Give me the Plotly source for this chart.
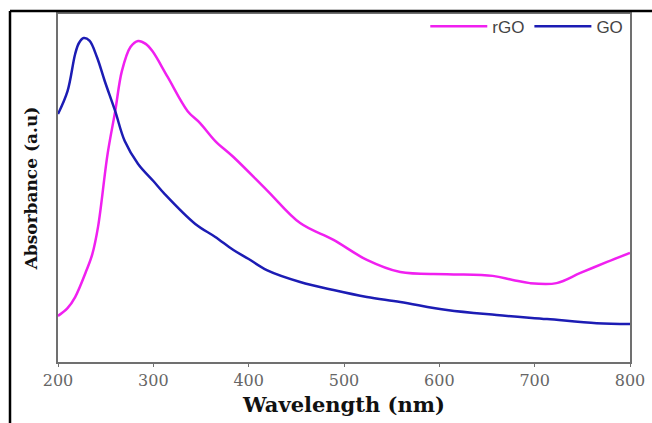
import plotly.graph_objects as go

go_wl = [200, 210, 218, 222, 227, 233, 241, 249, 260, 270, 284, 300, 312, 344, 365,
         384, 400, 419, 454, 489, 524, 559, 608, 660, 713, 765, 800]
go_abs = [0.855, 0.934, 1.062, 1.100, 1.117, 1.108, 1.050, 0.969, 0.865, 0.762,
          0.683, 0.624, 0.579, 0.476, 0.431, 0.386, 0.355, 0.317, 0.276, 0.248, 0.224,
          0.207, 0.179, 0.162, 0.148, 0.134, 0.131]

rgo_wl = [200, 210, 218, 230, 236, 242, 252, 260, 267, 276, 284, 292, 299, 315, 336,
          349, 365, 384, 419, 454, 489, 524, 559, 608, 656, 677, 695, 723, 748, 776, 800]
rgo_abs = [0.159, 0.186, 0.224, 0.317, 0.372, 0.466, 0.717, 0.865, 1.003, 1.086, 1.107,
           1.097, 1.072, 0.983, 0.865, 0.824, 0.762, 0.707, 0.593, 0.479, 0.421, 0.352,
           0.310, 0.303, 0.297, 0.283, 0.272, 0.272, 0.307, 0.345, 0.376]

x_ticks = [200, 300, 400, 500, 600, 700, 800]

fig = go.Figure()
fig.add_trace(go.Scatter(x=rgo_wl, y=rgo_abs, mode="lines", name="rGO",
                         line=dict(color="#f020f0", width=2.5, shape="spline", smoothing=1.0)))
fig.add_trace(go.Scatter(x=go_wl, y=go_abs, mode="lines", name="GO",
                         line=dict(color="#1c1cb4", width=2.5, shape="spline", smoothing=1.0)))

W, H = 652, 423
L, R, T, B = 58, 22, 14, 61
pw, ph = W - L - R, H - T - B

def px(x):
    return (x - L) / pw

def py(y):
    return (H - B - y) / ph

fig.update_layout(
    width=W, height=H,
    margin=dict(l=L, r=R, t=T, b=B, autoexpand=False),
    paper_bgcolor="white", plot_bgcolor="white",
    showlegend=True,
    legend=dict(orientation="h", x=0.997, xanchor="right", y=1.015, yanchor="top",
                bgcolor="rgba(0,0,0,0)", font=dict(family="Liberation Sans", size=17, color="#444"),
                itemwidth=57, tracegroupgap=0, itemclick=False),
    xaxis=dict(range=[200, 800], tickvals=x_ticks, ticktext=[str(v) for v in x_ticks],
               automargin=False,
               showgrid=False, zeroline=False, showline=True, linecolor="#707070", linewidth=2,
               mirror=True, ticks="outside", ticklen=3, tickcolor="#707070",
               tickfont=dict(family="DejaVu Serif", size=16, color="#666"),
               title=dict(text="<b>Wavelength (nm)</b>", standoff=8,
                          font=dict(family="DejaVu Serif", size=21, color="#111"))),
    yaxis=dict(range=[0, 1.2], showticklabels=False, ticks="", showgrid=False, zeroline=False,
               automargin=False,
               showline=True, linecolor="#707070", linewidth=2, mirror=True,
               title=dict(text="<b>Absorbance (a.u)</b>", standoff=14,
                          font=dict(family="DejaVu Serif", size=17, color="#111"))),
    shapes=[
        dict(type="line", xref="paper", yref="paper", x0=px(10), x1=px(652), y0=py(11), y1=py(11),
             line=dict(color="black", width=2.5)),
        dict(type="line", xref="paper", yref="paper", x0=px(10), x1=px(10), y0=py(11), y1=py(423),
             line=dict(color="black", width=2.5)),
    ],
)

fig.write_html("out.html")
